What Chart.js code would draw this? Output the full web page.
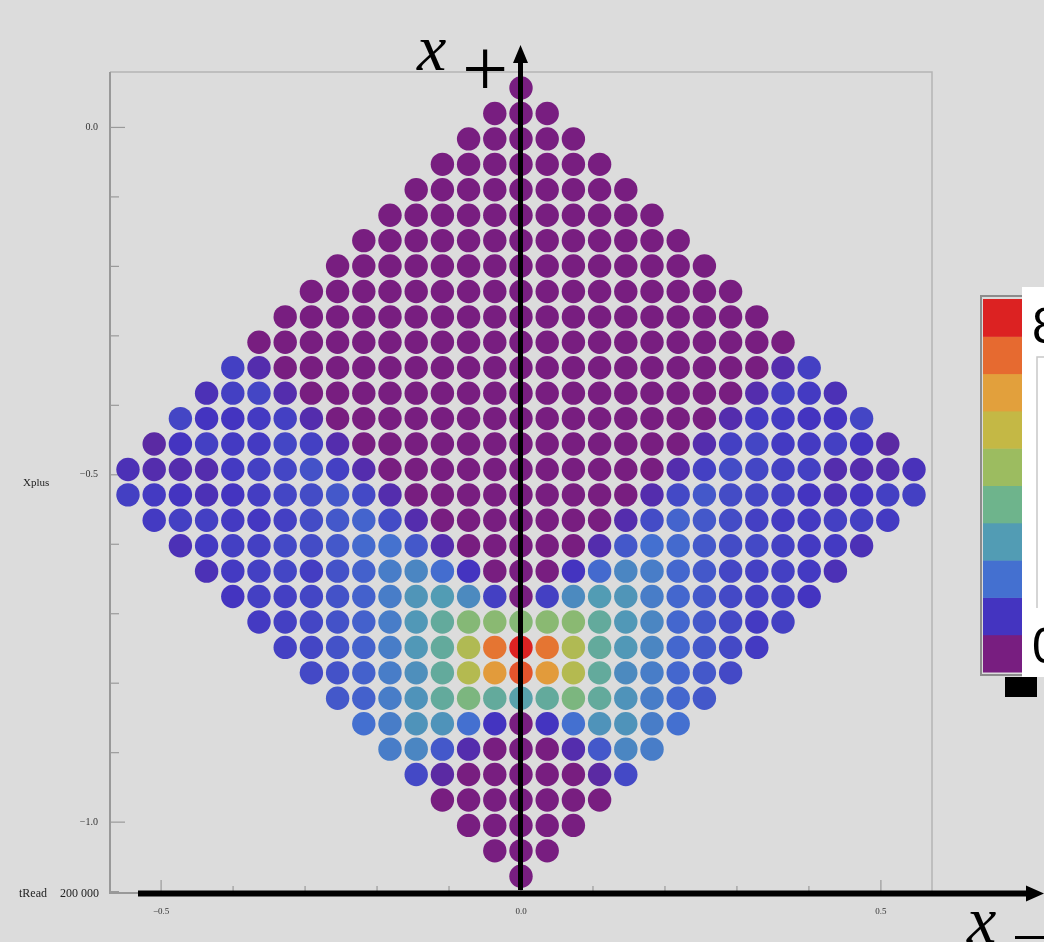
<!DOCTYPE html>
<html>
<head>
<meta charset="utf-8">
<script src="https://cdn.jsdelivr.net/npm/chart.js@4.4.1/dist/chart.umd.min.js"></script>
<style>
  html, body { margin: 0; padding: 0; background: #dcdcdc; }
  #wrap { width: 1044px; height: 942px; position: relative; }
</style>
</head>
<body>
<div id="wrap"><canvas id="chart" width="1044" height="942"></canvas></div>
<script>
// colour bins of the legend, bottom (0) to top (8)
const CBAR_COLORS = ["#781e80", "#4434c0", "#4470d0", "#529cb4", "#6eb48c",
                     "#9cbc60", "#c4b845", "#e2a03c", "#e66a30", "#dc2222"];
const CBAR_LABELS = ["0", "8"];

const X_TICKS = [-0.5, 0, 0.5];
const Y_TICKS = [0, -0.5, -1];

// lattice: row r, column k -> (k * STEP_X, GRID_TOP - r * STEP_Y)
const GRID_TOP = 0.0567;
const STEP_X = 0.0364;
const STEP_Y = 0.0366;

// colour level of each cell (0 = purple ... 9 = red), one row per line, left to right
const cellRows = [
  [0],
  [0, 0, 0],
  [0, 0, 0, 0, 0],
  [0, 0, 0, 0, 0, 0, 0],
  [0, 0, 0, 0, 0, 0, 0, 0, 0],
  [0, 0, 0, 0, 0, 0, 0, 0, 0, 0, 0],
  [0, 0, 0, 0, 0, 0, 0, 0, 0, 0, 0, 0, 0],
  [0, 0, 0, 0, 0, 0, 0, 0, 0, 0, 0, 0, 0, 0, 0],
  [0, 0, 0, 0, 0, 0, 0, 0, 0, 0, 0, 0, 0, 0, 0, 0, 0],
  [0, 0, 0, 0, 0, 0, 0, 0, 0, 0, 0, 0, 0, 0, 0, 0, 0, 0, 0],
  [0, 0, 0, 0, 0, 0, 0, 0, 0, 0, 0, 0, 0, 0, 0, 0, 0, 0, 0, 0, 0],
  [1.2, 0.7, 0, 0, 0, 0, 0, 0, 0, 0, 0, 0, 0, 0, 0, 0, 0, 0, 0, 0, 0, 0.7, 1.2],
  [0.85, 1.2, 1.3, 0.7, 0, 0, 0, 0, 0, 0, 0, 0, 0, 0, 0, 0, 0, 0, 0, 0, 0, 0.7, 1.2, 1.1, 0.85],
  [1.3, 1.0, 1.0, 1.1, 1.2, 0.7, 0, 0, 0, 0, 0, 0, 0, 0, 0, 0, 0, 0, 0, 0, 0, 0.7, 1.1, 1.1, 1.0, 1.0, 1.3],
  [0.55, 1.0, 1.2, 1.1, 1.1, 1.3, 1.2, 0.7, 0, 0, 0, 0, 0, 0, 0, 0, 0, 0, 0, 0, 0, 0.7, 1.2, 1.3, 1.1, 1.1, 1.2, 1.0, 0.55],
  [0.85, 0.7, 0.7, 0.7, 1.1, 1.2, 1.3, 1.5, 1.2, 0.7, 0, 0, 0, 0, 0, 0, 0, 0, 0, 0, 0, 0.7, 1.2, 1.4, 1.3, 1.2, 1.2, 0.7, 0.7, 0.7, 0.9],
  [1.2, 1.1, 1.0, 0.85, 1.0, 1.15, 1.3, 1.4, 1.6, 1.35, 0.7, 0, 0, 0, 0, 0, 0, 0, 0, 0, 0.7, 1.35, 1.6, 1.4, 1.3, 1.2, 1.0, 0.85, 1.0, 1.2, 1.2],
  [1.1, 1.2, 1.2, 1.1, 1.05, 1.2, 1.4, 1.6, 1.8, 1.4, 0.7, 0, 0, 0, 0, 0, 0, 0, 0.7, 1.4, 1.8, 1.6, 1.4, 1.2, 1.1, 1.1, 1.2, 1.2, 1.1],
  [0.85, 1.1, 1.2, 1.2, 1.35, 1.4, 1.6, 1.9, 2.05, 1.6, 0.7, 0, 0, 0, 0, 0, 0.7, 1.6, 2.0, 1.9, 1.6, 1.4, 1.35, 1.2, 1.1, 1.1, 0.85],
  [0.85, 1.1, 1.2, 1.3, 1.15, 1.5, 1.75, 2.3, 2.5, 1.95, 1.0, 0, 0, 0, 1.0, 1.9, 2.5, 2.3, 1.85, 1.6, 1.3, 1.2, 1.2, 1.1, 0.85],
  [1.0, 1.2, 1.2, 1.3, 1.5, 1.75, 2.3, 2.85, 3.0, 2.6, 1.2, 0, 1.2, 2.6, 3.0, 2.85, 2.3, 1.85, 1.6, 1.35, 1.2, 1.2, 1.0],
  [1.1, 1.2, 1.3, 1.5, 1.75, 2.3, 2.9, 3.6, 4.5, 4.6, 4.5, 4.6, 4.6, 3.6, 2.9, 2.5, 1.85, 1.6, 1.35, 1.1, 1.2],
  [1.2, 1.3, 1.5, 1.75, 2.3, 2.9, 3.6, 5.5, 7.8, 9, 7.8, 5.5, 3.6, 2.9, 2.5, 1.85, 1.6, 1.35, 1.1],
  [1.35, 1.5, 1.75, 2.3, 2.7, 3.6, 5.6, 7.1, 8.3, 7.1, 5.6, 3.6, 2.6, 2.3, 1.85, 1.6, 1.35],
  [1.6, 1.75, 2.3, 2.8, 3.6, 4.3, 3.6, 3.2, 3.6, 4.3, 3.6, 2.8, 2.3, 1.85, 1.6],
  [2.0, 2.3, 2.8, 2.8, 2.0, 1.0, 0, 1.0, 2.0, 2.8, 2.8, 2.3, 2.0],
  [2.3, 2.5, 1.6, 0.7, 0, 0, 0, 0.7, 1.6, 2.5, 2.3],
  [1.35, 0.55, 0, 0, 0, 0, 0, 0.55, 1.35],
  [0, 0, 0, 0, 0, 0, 0],
  [0, 0, 0, 0, 0],
  [0, 0, 0],
  [0],
];

const SERIF = "'Liberation Serif', 'DejaVu Serif', serif";

function hexRgb(h) {
  const n = parseInt(h.slice(1), 16);
  return [(n >> 16) & 255, (n >> 8) & 255, n & 255];
}

function levelColor(v) {
  const i = Math.max(0, Math.min(Math.floor(v), CBAR_COLORS.length - 2));
  const t = Math.min(1, v - i);
  const a = hexRgb(CBAR_COLORS[i]);
  const b = hexRgb(CBAR_COLORS[i + 1]);
  const c = a.map((x, j) => Math.round(x + (b[j] - x) * t));
  return "rgb(" + c.join(",") + ")";
}

const points = [];
const colors = [];
cellRows.forEach((row, r) => {
  const h = (row.length - 1) / 2;
  row.forEach((lvl, i) => {
    points.push({ x: (i - h) * STEP_X, y: GRID_TOP - r * STEP_Y });
    colors.push(levelColor(lvl));
  });
});

const fmtTick = (v) => (v < 0 ? "\u2212" : "") + Math.abs(v).toFixed(1);

const framePlugin = {
  id: "frame",
  beforeDatasetsDraw(chart) {
    const { ctx, chartArea: a, scales } = chart;
    ctx.save();
    ctx.strokeStyle = "#b4b4b4";
    ctx.lineWidth = 1.5;
    ctx.beginPath();
    ctx.moveTo(a.left, a.top);
    ctx.lineTo(a.right, a.top);
    ctx.lineTo(a.right, a.bottom);
    ctx.stroke();
    ctx.strokeStyle = "#999";
    ctx.lineWidth = 2;
    ctx.beginPath();
    ctx.moveTo(a.left, a.top);
    ctx.lineTo(a.left, a.bottom);
    ctx.lineTo(a.right, a.bottom);
    ctx.stroke();

    // inward tick marks, minor every 0.1
    ctx.lineWidth = 1.2;
    ctx.strokeStyle = "#9a9a9a";
    for (let i = 0; i <= 11; i++) {
      const y = scales.y.getPixelForValue(-i / 10);
      const len = i % 5 === 0 ? 15 : 9;
      ctx.beginPath();
      ctx.moveTo(a.left, y);
      ctx.lineTo(a.left + len, y);
      ctx.stroke();
    }
    for (let i = -5; i <= 5; i++) {
      const x = scales.x.getPixelForValue(i / 10);
      const len = i % 5 === 0 ? 13 : 7;
      ctx.beginPath();
      ctx.moveTo(x, a.bottom);
      ctx.lineTo(x, a.bottom - len);
      ctx.stroke();
    }

    ctx.fillStyle = "#222";
    ctx.font = "11px " + SERIF;
    ctx.textBaseline = "middle";
    ctx.textAlign = "left";
    ctx.fillText("Xplus", 23, 483);
    ctx.font = "12px " + SERIF;
    ctx.fillText("tRead", 19, 894);
    ctx.textAlign = "right";
    ctx.fillText("200 000", 99, 894);
    ctx.restore();
  },
};

const overlayPlugin = {
  id: "overlay",
  afterDraw(chart) {
    const { ctx, scales } = chart;
    const x0 = scales.x.getPixelForValue(0) - 0.5;
    ctx.save();
    ctx.fillStyle = "#000";
    ctx.strokeStyle = "#000";

    // x+ axis arrow
    ctx.lineWidth = 5;
    ctx.beginPath();
    ctx.moveTo(x0, 890);
    ctx.lineTo(x0, 60);
    ctx.stroke();
    ctx.beginPath();
    ctx.moveTo(x0, 45);
    ctx.lineTo(x0 - 7.5, 63);
    ctx.lineTo(x0 + 7.5, 63);
    ctx.closePath();
    ctx.fill();

    // x- axis arrow
    ctx.lineWidth = 6;
    ctx.beginPath();
    ctx.moveTo(138, 893.5);
    ctx.lineTo(1030, 893.5);
    ctx.stroke();
    ctx.beginPath();
    ctx.moveTo(1044, 893.5);
    ctx.lineTo(1026, 885.5);
    ctx.lineTo(1026, 901.5);
    ctx.closePath();
    ctx.fill();

    // axis names
    ctx.textBaseline = "alphabetic";
    ctx.textAlign = "left";
    ctx.font = "italic 66px " + SERIF;
    ctx.fillText("x", 417, 70);
    ctx.fillText("x", 967, 942);
    ctx.font = "82px " + SERIF;
    ctx.textAlign = "center";
    ctx.textBaseline = "middle";
    ctx.fillText("+", 485, 74);
    ctx.fillRect(1015, 936, 30, 3);

    // colour bar
    const top = 299, bot = 672, left = 983, right = 1022;
    const bh = (bot - top) / CBAR_COLORS.length;
    CBAR_COLORS.forEach((c, i) => {
      ctx.fillStyle = c;
      ctx.fillRect(left, bot - (i + 1) * bh, right - left, bh + 0.5);
    });
    ctx.strokeStyle = "#8c8c8c";
    ctx.lineWidth = 2;
    ctx.strokeRect(left - 2, top - 3, right - left + 4, bot - top + 6);

    ctx.fillStyle = "#fff";
    ctx.fillRect(1022, 287, 22, 390);
    ctx.strokeStyle = "#c8c8c8";
    ctx.lineWidth = 1.5;
    ctx.beginPath();
    ctx.moveTo(1044, 357);
    ctx.lineTo(1037, 357);
    ctx.lineTo(1037, 608);
    ctx.stroke();

    ctx.fillStyle = "#000";
    ctx.font = "50px 'Liberation Sans', Arial, sans-serif";
    ctx.textAlign = "left";
    ctx.textBaseline = "alphabetic";
    ctx.fillText(CBAR_LABELS[1], 1032, 343);
    ctx.fillText(CBAR_LABELS[0], 1032, 663);
    ctx.fillRect(1005, 677, 32, 20);
    ctx.restore();
  },
};

new Chart(document.getElementById("chart"), {
  type: "scatter",
  data: {
    datasets: [{
      data: points,
      pointRadius: 11.7,
      pointHoverRadius: 11.7,
      pointBorderWidth: 0,
      pointBackgroundColor: colors,
      pointBorderColor: colors,
    }],
  },
  options: {
    responsive: false,
    animation: false,
    events: [],
    layout: { padding: { top: 72, right: 112, left: 0, bottom: 0 } },
    plugins: { legend: { display: false }, tooltip: { enabled: false } },
    scales: {
      x: {
        type: "linear",
        min: -0.571,
        max: 0.571,
        afterFit: (s) => { s.height = 49; },
        afterBuildTicks: (s) => { s.ticks = X_TICKS.map((v) => ({ value: v })); },
        grid: { display: false, drawTicks: false },
        border: { display: false },
        ticks: { padding: 13, color: "#333", maxRotation: 0, font: { family: SERIF, size: 9 }, callback: fmtTick },
      },
      y: {
        type: "linear",
        min: -1.102,
        max: 0.0798,
        afterFit: (s) => { s.width = 110; },
        afterBuildTicks: (s) => { s.ticks = Y_TICKS.map((v) => ({ value: v })); },
        grid: { display: false, drawTicks: false },
        border: { display: false },
        ticks: { padding: 12, color: "#333", font: { family: SERIF, size: 10 }, callback: fmtTick },
      },
    },
  },
  plugins: [framePlugin, overlayPlugin],
});
</script>
</body>
</html>
